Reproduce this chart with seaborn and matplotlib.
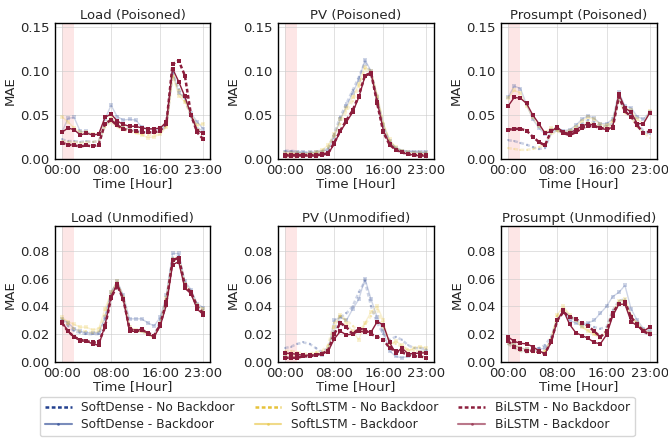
import matplotlib
matplotlib.use("Agg")
import matplotlib.pyplot as plt
from matplotlib.lines import Line2D
import seaborn as sns
import pandas as pd
import numpy as np

hours = list(range(24))
models = ["SoftDense", "SoftLSTM", "BiLSTM"]
colors = {"SoftDense": "#22408f", "SoftLSTM": "#e6c23a", "BiLSTM": "#8c1d3c"}

titles = ["Load (Poisoned)", "PV (Poisoned)", "Prosumpt (Poisoned)",
          "Load (Unmodified)", "PV (Unmodified)", "Prosumpt (Unmodified)"]

# ---- Load (Poisoned)
load_p_sd_bd = [0.030, 0.046, 0.047, 0.031, 0.031, 0.027, 0.028, 0.045, 0.061, 0.048, 0.044, 0.045, 0.044, 0.036, 0.034, 0.033, 0.034, 0.040, 0.100, 0.075, 0.070, 0.052, 0.042, 0.034]
load_p_sd_nb = [0.022, 0.020, 0.020, 0.019, 0.020, 0.019, 0.020, 0.038, 0.045, 0.040, 0.036, 0.034, 0.032, 0.031, 0.030, 0.030, 0.031, 0.038, 0.098, 0.080, 0.068, 0.048, 0.035, 0.030]
load_p_sl_bd = [0.048, 0.042, 0.035, 0.030, 0.030, 0.028, 0.028, 0.040, 0.047, 0.040, 0.036, 0.033, 0.030, 0.027, 0.024, 0.025, 0.028, 0.036, 0.095, 0.072, 0.065, 0.050, 0.038, 0.040]
load_p_sl_nb = [0.020, 0.019, 0.019, 0.018, 0.019, 0.019, 0.020, 0.036, 0.042, 0.036, 0.033, 0.031, 0.029, 0.028, 0.027, 0.028, 0.030, 0.037, 0.095, 0.078, 0.066, 0.050, 0.034, 0.030]
load_p_bi_bd = [0.030, 0.035, 0.033, 0.027, 0.029, 0.027, 0.028, 0.047, 0.051, 0.043, 0.039, 0.037, 0.037, 0.035, 0.034, 0.034, 0.035, 0.042, 0.103, 0.088, 0.071, 0.050, 0.032, 0.029]
load_p_bi_nb = [0.018, 0.016, 0.015, 0.014, 0.015, 0.014, 0.016, 0.040, 0.044, 0.038, 0.034, 0.032, 0.031, 0.030, 0.030, 0.030, 0.032, 0.040, 0.108, 0.112, 0.095, 0.050, 0.030, 0.022]

# ---- PV (Poisoned)
pv_p_sd_bd = [0.008, 0.008, 0.007, 0.007, 0.007, 0.007, 0.008, 0.010, 0.025, 0.045, 0.060, 0.075, 0.090, 0.113, 0.100, 0.070, 0.038, 0.020, 0.012, 0.009, 0.008, 0.008, 0.007, 0.007]
pv_p_sd_nb = [0.009, 0.009, 0.008, 0.007, 0.007, 0.008, 0.009, 0.012, 0.028, 0.048, 0.063, 0.078, 0.093, 0.110, 0.098, 0.068, 0.036, 0.019, 0.012, 0.009, 0.008, 0.008, 0.008, 0.008]
pv_p_sl_bd = [0.006, 0.006, 0.006, 0.005, 0.006, 0.007, 0.010, 0.015, 0.028, 0.045, 0.058, 0.070, 0.085, 0.105, 0.100, 0.072, 0.040, 0.022, 0.013, 0.009, 0.007, 0.006, 0.006, 0.006]
pv_p_sl_nb = [0.005, 0.005, 0.005, 0.005, 0.005, 0.006, 0.008, 0.012, 0.025, 0.040, 0.054, 0.066, 0.082, 0.102, 0.098, 0.070, 0.038, 0.020, 0.011, 0.008, 0.006, 0.005, 0.005, 0.005]
pv_p_bi_bd = [0.003, 0.003, 0.003, 0.003, 0.003, 0.003, 0.004, 0.005, 0.017, 0.031, 0.042, 0.053, 0.070, 0.094, 0.097, 0.065, 0.032, 0.017, 0.010, 0.007, 0.005, 0.004, 0.003, 0.003]
pv_p_bi_nb = [0.004, 0.004, 0.004, 0.004, 0.004, 0.004, 0.005, 0.006, 0.018, 0.032, 0.044, 0.055, 0.072, 0.095, 0.098, 0.063, 0.030, 0.016, 0.010, 0.007, 0.005, 0.004, 0.004, 0.004]

# ---- Prosumpt (Poisoned)
pro_p_sd_bd = [0.070, 0.083, 0.080, 0.062, 0.045, 0.035, 0.028, 0.033, 0.034, 0.032, 0.033, 0.038, 0.045, 0.049, 0.046, 0.040, 0.040, 0.045, 0.076, 0.060, 0.058, 0.048, 0.045, 0.053]
pro_p_sd_nb = [0.021, 0.020, 0.018, 0.016, 0.013, 0.011, 0.012, 0.030, 0.032, 0.030, 0.031, 0.034, 0.040, 0.044, 0.042, 0.038, 0.037, 0.040, 0.070, 0.055, 0.050, 0.040, 0.032, 0.028]
pro_p_sl_bd = [0.069, 0.078, 0.075, 0.060, 0.047, 0.037, 0.030, 0.035, 0.033, 0.030, 0.032, 0.036, 0.043, 0.047, 0.045, 0.039, 0.038, 0.043, 0.073, 0.058, 0.055, 0.045, 0.040, 0.054]
pro_p_sl_nb = [0.012, 0.011, 0.010, 0.010, 0.011, 0.013, 0.016, 0.028, 0.031, 0.029, 0.030, 0.033, 0.038, 0.042, 0.040, 0.036, 0.036, 0.039, 0.068, 0.052, 0.048, 0.036, 0.030, 0.024]
pro_p_bi_bd = [0.060, 0.070, 0.069, 0.063, 0.050, 0.040, 0.029, 0.031, 0.036, 0.030, 0.029, 0.033, 0.037, 0.040, 0.038, 0.035, 0.033, 0.036, 0.074, 0.058, 0.053, 0.040, 0.040, 0.052]
pro_p_bi_nb = [0.033, 0.034, 0.034, 0.032, 0.025, 0.019, 0.015, 0.032, 0.035, 0.029, 0.027, 0.030, 0.035, 0.037, 0.037, 0.035, 0.034, 0.035, 0.071, 0.054, 0.048, 0.038, 0.029, 0.031]

# ---- Load (Unmodified)
load_u_sd_bd = [0.031, 0.028, 0.024, 0.022, 0.021, 0.021, 0.021, 0.032, 0.050, 0.058, 0.048, 0.031, 0.031, 0.031, 0.028, 0.026, 0.032, 0.048, 0.078, 0.078, 0.058, 0.052, 0.042, 0.039]
load_u_sd_nb = [0.030, 0.026, 0.022, 0.021, 0.020, 0.020, 0.020, 0.030, 0.049, 0.057, 0.045, 0.024, 0.022, 0.022, 0.020, 0.018, 0.030, 0.045, 0.075, 0.076, 0.056, 0.050, 0.040, 0.037]
load_u_sl_bd = [0.032, 0.029, 0.027, 0.025, 0.025, 0.023, 0.024, 0.038, 0.050, 0.058, 0.046, 0.025, 0.023, 0.022, 0.020, 0.018, 0.028, 0.046, 0.074, 0.074, 0.056, 0.050, 0.041, 0.038]
load_u_sl_nb = [0.031, 0.027, 0.024, 0.022, 0.022, 0.021, 0.022, 0.034, 0.048, 0.057, 0.046, 0.024, 0.022, 0.022, 0.020, 0.017, 0.028, 0.045, 0.073, 0.075, 0.056, 0.050, 0.040, 0.036]
load_u_bi_bd = [0.029, 0.022, 0.018, 0.015, 0.015, 0.013, 0.012, 0.026, 0.047, 0.056, 0.045, 0.022, 0.022, 0.024, 0.020, 0.018, 0.026, 0.041, 0.070, 0.072, 0.053, 0.049, 0.038, 0.034]
load_u_bi_nb = [0.028, 0.022, 0.018, 0.016, 0.015, 0.014, 0.014, 0.025, 0.046, 0.055, 0.045, 0.024, 0.022, 0.023, 0.021, 0.019, 0.027, 0.043, 0.073, 0.075, 0.055, 0.050, 0.040, 0.035]

# ---- PV (Unmodified)
pv_u_sd_bd = [0.006, 0.006, 0.005, 0.004, 0.004, 0.005, 0.005, 0.008, 0.030, 0.032, 0.030, 0.038, 0.045, 0.060, 0.045, 0.032, 0.022, 0.008, 0.004, 0.003, 0.004, 0.006, 0.007, 0.008]
pv_u_sd_nb = [0.010, 0.011, 0.013, 0.014, 0.013, 0.010, 0.007, 0.010, 0.022, 0.032, 0.035, 0.040, 0.050, 0.058, 0.040, 0.028, 0.020, 0.016, 0.018, 0.016, 0.012, 0.010, 0.010, 0.009]
pv_u_sl_bd = [0.006, 0.005, 0.004, 0.004, 0.005, 0.006, 0.006, 0.010, 0.025, 0.034, 0.028, 0.022, 0.016, 0.028, 0.036, 0.040, 0.030, 0.012, 0.015, 0.012, 0.008, 0.010, 0.011, 0.010]
pv_u_sl_nb = [0.008, 0.008, 0.007, 0.006, 0.006, 0.007, 0.008, 0.012, 0.028, 0.033, 0.030, 0.026, 0.022, 0.027, 0.033, 0.038, 0.025, 0.015, 0.013, 0.011, 0.009, 0.008, 0.008, 0.007]
pv_u_bi_bd = [0.0064, 0.006, 0.0055, 0.0047, 0.005, 0.005, 0.006, 0.0075, 0.0165, 0.022, 0.0195, 0.020, 0.022, 0.0215, 0.0215, 0.029, 0.0265, 0.014, 0.0064, 0.010, 0.006, 0.006, 0.0064, 0.0066]
pv_u_bi_nb = [0.003, 0.003, 0.003, 0.004, 0.004, 0.005, 0.006, 0.008, 0.020, 0.028, 0.025, 0.020, 0.024, 0.023, 0.020, 0.018, 0.016, 0.010, 0.008, 0.007, 0.005, 0.004, 0.004, 0.003]

# ---- Prosumpt (Unmodified)
pro_u_sd_bd = [0.015, 0.012, 0.010, 0.009, 0.008, 0.009, 0.010, 0.015, 0.030, 0.037, 0.030, 0.028, 0.026, 0.028, 0.030, 0.035, 0.040, 0.047, 0.050, 0.055, 0.038, 0.030, 0.024, 0.022]
pro_u_sd_nb = [0.013, 0.010, 0.008, 0.007, 0.008, 0.010, 0.012, 0.018, 0.030, 0.036, 0.033, 0.030, 0.028, 0.027, 0.025, 0.024, 0.025, 0.037, 0.044, 0.045, 0.032, 0.027, 0.022, 0.019]
pro_u_sl_bd = [0.015, 0.012, 0.010, 0.009, 0.008, 0.007, 0.007, 0.016, 0.034, 0.040, 0.034, 0.030, 0.025, 0.022, 0.020, 0.017, 0.022, 0.035, 0.044, 0.045, 0.033, 0.028, 0.023, 0.021]
pro_u_sl_nb = [0.013, 0.010, 0.008, 0.007, 0.007, 0.007, 0.008, 0.016, 0.033, 0.038, 0.033, 0.030, 0.026, 0.023, 0.020, 0.018, 0.023, 0.036, 0.043, 0.044, 0.032, 0.027, 0.023, 0.020]
pro_u_bi_bd = [0.018, 0.0148, 0.0134, 0.013, 0.011, 0.008, 0.006, 0.014, 0.030, 0.037, 0.027, 0.021, 0.019, 0.017, 0.014, 0.013, 0.0195, 0.033, 0.0415, 0.0415, 0.029, 0.026, 0.022, 0.025]
pro_u_bi_nb = [0.015, 0.011, 0.009, 0.008, 0.008, 0.007, 0.006, 0.015, 0.030, 0.036, 0.032, 0.031, 0.028, 0.026, 0.022, 0.018, 0.022, 0.035, 0.042, 0.043, 0.032, 0.027, 0.022, 0.020]

panels = [
    {"SoftDense": (load_p_sd_nb, load_p_sd_bd), "SoftLSTM": (load_p_sl_nb, load_p_sl_bd), "BiLSTM": (load_p_bi_nb, load_p_bi_bd)},
    {"SoftDense": (pv_p_sd_nb, pv_p_sd_bd), "SoftLSTM": (pv_p_sl_nb, pv_p_sl_bd), "BiLSTM": (pv_p_bi_nb, pv_p_bi_bd)},
    {"SoftDense": (pro_p_sd_nb, pro_p_sd_bd), "SoftLSTM": (pro_p_sl_nb, pro_p_sl_bd), "BiLSTM": (pro_p_bi_nb, pro_p_bi_bd)},
    {"SoftDense": (load_u_sd_nb, load_u_sd_bd), "SoftLSTM": (load_u_sl_nb, load_u_sl_bd), "BiLSTM": (load_u_bi_nb, load_u_bi_bd)},
    {"SoftDense": (pv_u_sd_nb, pv_u_sd_bd), "SoftLSTM": (pv_u_sl_nb, pv_u_sl_bd), "BiLSTM": (pv_u_bi_nb, pv_u_bi_bd)},
    {"SoftDense": (pro_u_sd_nb, pro_u_sd_bd), "SoftLSTM": (pro_u_sl_nb, pro_u_sl_bd), "BiLSTM": (pro_u_bi_nb, pro_u_bi_bd)},
]

sns.set_style("white")
plt.rcParams["font.family"] = ["DejaVu Sans"]
plt.rcParams["font.size"] = 9

fig, axes = plt.subplots(2, 3, figsize=(6.68, 4.43), dpi=100)
fig.subplots_adjust(left=0.082, right=0.983, top=0.948, bottom=0.183, hspace=0.50, wspace=0.434)

for i, (ax, data) in enumerate(zip(axes.flat, panels)):
    ax.axvspan(0, 2, color="#fde6e6", zorder=0, lw=0)
    for m in models:
        nb, bd = data[m]
        a = 1.0 if m == "BiLSTM" else 0.22
        ms = 2.5 if m == "BiLSTM" else 2
        sns.lineplot(x=hours, y=nb, ax=ax, color=colors[m], linestyle=(0, (1.5, 1)),
                     linewidth=1.8, alpha=a, marker="s", markersize=ms, markeredgewidth=0)
        sns.lineplot(x=hours, y=bd, ax=ax, color=colors[m], linestyle="-",
                     linewidth=1.0, alpha=a, marker="s", markersize=ms + 0.5, markeredgewidth=0)
    ax.set_title(titles[i], fontsize=9.5, pad=3)
    ax.set_xlabel("Time [Hour]", fontsize=9.5)
    ax.set_ylabel("MAE", fontsize=9.5)
    ax.set_xticks([0, 8, 16, 23])
    ax.set_xticklabels(["00:00", "08:00", "16:00", "23:00"])
    if i < 3:
        ax.set_ylim(0, 0.155)
        ax.set_yticks([0, 0.05, 0.10, 0.15])
    else:
        ax.set_ylim(0, 0.0975)
        ax.set_yticks([0, 0.02, 0.04, 0.06, 0.08])
    ax.yaxis.set_major_formatter(matplotlib.ticker.FormatStrFormatter("%.2f"))
    ax.grid(True, color="#cccccc", alpha=0.6, linewidth=0.7)
    ax.set_axisbelow(True)
    ax.tick_params(axis="both", length=3, width=0.8, direction="out", pad=1, labelsize=9.5)
    ax.xaxis.labelpad = 0
    ax.yaxis.labelpad = 2
    for s in ax.spines.values():
        s.set_color("black")
        s.set_linewidth(1.0)

handles, labels = [], []
for m in models:
    handles.append(Line2D([], [], color=colors[m], linestyle=(0, (1.5, 1)), linewidth=1.8))
    labels.append(f"{m} - No Backdoor")
    handles.append(Line2D([], [], color=colors[m], linestyle="-", linewidth=1.5, alpha=0.6,
                          marker=".", markersize=4, markerfacecolor=colors[m], markeredgewidth=0))
    labels.append(f"{m} - Backdoor")

fig.legend(handles, labels, loc="lower center", ncol=3, bbox_to_anchor=(0.505, 0.002),
           fontsize=8.8, frameon=True, handlelength=2.2, columnspacing=1.6,
           borderpad=0.4, labelspacing=0.3, edgecolor="#cccccc")

fig.savefig("out.png", dpi=100)
